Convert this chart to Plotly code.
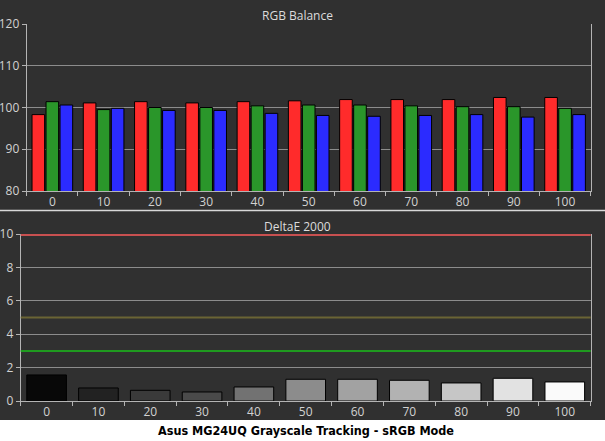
import plotly.graph_objects as go

categories = ["0", "10", "20", "30", "40", "50", "60", "70", "80", "90", "100"]
red_vals = [98.3, 101.1, 101.4, 101.1, 101.4, 101.6, 101.9, 101.9, 101.9, 102.4, 102.4]
green_vals = [101.4, 99.5, 100.0, 100.0, 100.4, 100.6, 100.6, 100.4, 100.2, 100.2, 99.8]
blue_vals = [100.6, 99.8, 99.3, 99.3, 98.6, 98.1, 97.9, 98.1, 98.3, 97.7, 98.3]
delta_e = [1.56, 0.78, 0.64, 0.54, 0.84, 1.30, 1.30, 1.24, 1.08, 1.36, 1.14]
gray_colors = ["#080808", "#222222", "#3a3a3a", "#4a4a4a", "#727272", "#8c8c8c",
               "#a2a2a2", "#b2b2b2", "#c6c6c6", "#e2e2e2", "#fafafa"]
thresholds = [10, 5, 3]
threshold_colors = ["#c85050", "#6a6434", "#1f9a1f"]
threshold_widths = [4, 2, 2]

W, H = 605, 441
FONT = "Open Sans"
TICKCOL = "#d2d2d2"
GRID = "#8c8c8c"
AXLINE = "#b4b4b4"

fig = go.Figure()
for name, vals, col in [("R", red_vals, "#ff2b2b"), ("G", green_vals, "#2a962a"), ("B", blue_vals, "#2b2bff")]:
    fig.add_trace(go.Bar(x=categories, y=vals, name=name, marker=dict(color=col, line=dict(color="#000000", width=1)),
                         xaxis="x", yaxis="y", base=0))

fig.add_trace(go.Bar(x=categories, y=delta_e, marker=dict(color=gray_colors, line=dict(color="#000000", width=1)),
                     xaxis="x2", yaxis="y2", width=0.765, offsetgroup="de"))

def py(px):
    return 1 - px / H

axis_common = dict(showgrid=False, showline=True, linecolor=AXLINE, linewidth=1,
                   ticks="outside", ticklen=4, tickcolor=AXLINE, automargin=False,
                   tickfont=dict(family=FONT, size=12, color=TICKCOL), zeroline=False, fixedrange=True)

fig.update_layout(
    template="none",
    width=W, height=H,
    margin=dict(l=0, r=0, t=0, b=0, autoexpand=False),
    paper_bgcolor="#ffffff",
    plot_bgcolor="#212121",
    showlegend=False,
    hovermode=False,
    barmode="group",
    bargap=0.18,
    bargroupgap=0.1,
    xaxis=dict(domain=[26.7 / W, 590.7 / W], anchor="y", type="category", tickson="boundaries", **axis_common),
    yaxis=dict(domain=[py(191), py(24)], anchor="x", range=[80, 120], tickvals=[80, 90, 100, 110, 120],
               **{**axis_common, "showgrid": True, "gridcolor": GRID, "gridwidth": 1, "mirror": True}),
    xaxis2=dict(domain=[20.7 / W, 590.7 / W], anchor="y2", type="category", tickson="boundaries", **axis_common),
    yaxis2=dict(domain=[py(401), py(234)], anchor="x2", range=[0, 10], tickvals=[0, 2, 4, 6, 8, 10],
                **{**axis_common, "showgrid": True, "gridcolor": GRID, "gridwidth": 1, "mirror": True}),
)

shapes = [
    dict(type="rect", xref="paper", yref="paper", x0=0, x1=1, y0=py(420), y1=1,
         fillcolor="#303030", line=dict(width=0), layer="below"),
    dict(type="line", xref="paper", yref="paper", x0=0, x1=1, y0=py(210.5), y1=py(210.5),
         line=dict(color="#d8d8d8", width=1.5), layer="above"),
]
for val, col, wdt in zip(thresholds, threshold_colors, threshold_widths):
    shapes.append(dict(type="line", xref="x2 domain", yref="y2", x0=0, x1=1, y0=val, y1=val,
                       line=dict(color=col, width=wdt), layer="above"))
fig.update_layout(shapes=shapes)

fig.add_annotation(text="RGB Balance", xref="paper", yref="paper", x=297.5 / W, y=py(15),
                   showarrow=False, font=dict(family=FONT, size=12, color="#dcdcdc"), xanchor="center", yanchor="middle")
fig.add_annotation(text="DeltaE 2000", xref="paper", yref="paper", x=297 / W, y=py(226),
                   showarrow=False, font=dict(family=FONT, size=12, color="#dcdcdc"), xanchor="center", yanchor="middle")
fig.add_annotation(text="<b>Asus MG24UQ Grayscale Tracking - sRGB Mode</b>", xref="paper", yref="paper",
                   x=306 / W, y=py(430.5), showarrow=False,
                   font=dict(family="DejaVu Sans Condensed, DejaVu Sans", size=12.5, color="#000000"),
                   xanchor="center", yanchor="middle")

fig.write_html("out.html", config={"displayModeBar": False, "staticPlot": True},
               post_script="document.body.style.margin='0';document.body.style.padding='0';document.body.style.overflow='hidden';")
